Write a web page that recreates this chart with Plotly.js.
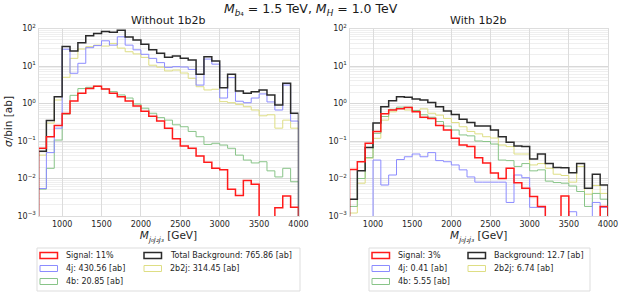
<!DOCTYPE html>
<html>
<head>
<meta charset="utf-8">
<script src="https://cdn.plot.ly/plotly-3.0.1.min.js"></script>
<style>html,body{margin:0;padding:0;background:#fff}#chart{width:623px;height:292px}</style>
</head>
<body>
<div id="chart"></div>
<script>
// Bin edges in GeV (100 GeV bins)
const binEdges = [700,800,900,1000,1100,1200,1300,1400,1500,1600,1700,1800,1900,2000,2100,2200,2300,2400,2500,2600,2700,2800,2900,3000,3100,3200,3300,3400,3500,3600,3700,3800,3900,4000];

// Left panel: Without 1b2b (sigma/bin in ab); 0 = empty bin
const signalL = [0.064,0.13,0.26,0.54,1.17,1.87,2.5,2.9,2.45,1.87,1.52,1.17,0.86,0.62,0.46,0.34,0.22,0.115,0.074,0.064,0.04,0.027,0.0187,0.0172,0.0052,0.0035,0.0089,0.007,0,0,0.00167,0.0034,0.0017];
const fourjL = [0.0054,0.049,0.22,28,6.4,11.8,30.8,35,47,36,60,36,27,20.5,16,12.3,9.2,9.6,9.4,8.1,3.1,15.3,11.2,1.4,4.9,1.15,1.05,1.4,1.8,1.1,0.67,3.1,0.34];
const fourbL = [0.0052,0.0187,0.106,0.52,1.65,2.5,2.7,2.9,2.44,2.07,1.69,1.4,0.97,0.75,0.55,0.42,0.36,0.27,0.24,0.18,0.13,0.081,0.087,0.078,0.064,0.042,0.031,0.026,0.028,0.016,0.011,0.0187,0.0082];
const twob2jL = [0.042,0.30,1.24,5.0,16,28.4,32.8,36,34,40,30,24,21,17,10.5,9.3,7.4,7.8,6.5,4.7,2.8,2.3,2.4,1.12,1.05,0.95,0.82,0.67,0.47,0.5,0.22,0.36,0.22];
const totalL = [0.053,0.35,1.52,33,25,42,64,74,83,79,90,59,49,38,27,22,17,18.5,16,14.4,6.0,17.7,13.6,2.64,6.0,2.15,1.87,2.07,2.29,1.69,0.91,3.45,0.55];

// Right panel: With 1b2b
const signalR = [0.0175,0.028,0.087,0.18,0.53,0.67,0.73,0.78,0.6,0.43,0.40,0.26,0.196,0.118,0.078,0.071,0.036,0.026,0.014,0.010,0.0187,0.0077,0.0055,0.0033,0.0018,0,0,0.0034,0,0,0,0,0.0018];
const fourjR = [0,0,0,0.031,0.0067,0.0124,0.032,0.038,0.045,0.038,0.049,0.030,0.028,0.023,0.017,0.011,0.008,0.008,0.008,0.008,0.0023,0.0124,0.0105,0.0017,0.0017,0,0,0,0.0013,0,0,0.0023,0.0017];
const fourbR = [0.0018,0.01,0.036,0.16,0.45,0.7,0.8,0.8,0.65,0.5,0.43,0.33,0.25,0.196,0.145,0.137,0.1,0.097,0.083,0.031,0.03,0.021,0.025,0.016,0.017,0.0085,0.0078,0.0075,0.0063,0.0045,0.0018,0.004,0.0028];
const twob2jR = [0.0012,0.0075,0.035,0.118,0.36,0.6,0.74,0.67,0.65,0.72,0.55,0.49,0.4,0.31,0.24,0.18,0.155,0.13,0.12,0.078,0.071,0.045,0.045,0.023,0.025,0.0187,0.013,0.012,0.008,0.021,0.0038,0.0065,0.004];
const totalR = [0.0028,0.016,0.067,0.30,0.82,1.19,1.52,1.46,1.32,1.24,1.07,0.82,0.63,0.51,0.38,0.31,0.25,0.25,0.196,0.13,0.092,0.074,0.071,0.033,0.045,0.025,0.0198,0.0194,0.0143,0.025,0.0055,0.0129,0.0067];

const legendL = ["Signal: 11%","4j: 430.56 [ab]","4b: 20.85 [ab]","Total Background: 765.86 [ab]","2b2j: 314.45 [ab]"];
const legendR = ["Signal: 3%","4j: 0.41 [ab]","4b: 5.55 [ab]","Background: 12.7 [ab]","2b2j: 6.74 [ab]"];
const yTickVals = [1e-3,1e-2,1e-1,1,10,100];
const yTickText = ["10<sup>−3</sup>","10<sup>−2</sup>","10<sup>−1</sup>","10<sup>0</sup>","10<sup>1</sup>","10<sup>2</sup>"];
const xTickVals = [1000,1500,2000,2500,3000,3500,4000];

const FLOOR = 1e-9;
const COL = {sig:'#ff1a1a', j4:'#8c8cff', b4:'#88c488', bb:'#dede84', tot:'#2b2b2b'};

function step(vals, color, width, xa, ya) {
  const x = [binEdges[0]], y = [FLOOR];
  for (let i = 0; i < vals.length; i++) { x.push(binEdges[i]); y.push(vals[i] > 0 ? vals[i] : FLOOR); }
  const last = vals[vals.length-1] > 0 ? vals[vals.length-1] : FLOOR;
  x.push(binEdges[binEdges.length-1]); y.push(last);
  x.push(binEdges[binEdges.length-1]); y.push(FLOOR);
  return {x, y, type:'scatter', mode:'lines', line:{shape:'hv', color, width}, xaxis:xa, yaxis:ya, showlegend:false, hoverinfo:'skip'};
}

const traces = [
  step(twob2jL, COL.bb, 1, 'x', 'y'),
  step(fourbL, COL.b4, 1, 'x', 'y'),
  step(fourjL, COL.j4, 1, 'x', 'y'),
  step(totalL, COL.tot, 1.5, 'x', 'y'),
  step(signalL, COL.sig, 1.5, 'x', 'y'),
  step(twob2jR, COL.bb, 1, 'x2', 'y2'),
  step(fourbR, COL.b4, 1, 'x2', 'y2'),
  step(fourjR, COL.j4, 1, 'x2', 'y2'),
  step(totalR, COL.tot, 1.5, 'x2', 'y2'),
  step(signalR, COL.sig, 1.5, 'x2', 'y2')
];

const W = 623, H = 292;
const px = v => v / W, py = v => 1 - v / H;
const FONT = 'DejaVu Sans';
const tickFont = {family: FONT, size: 8, color: '#262626'};

function xax(domain) {
  return {domain, range:[700,4000], tickvals:xTickVals, ticktext:xTickVals.map(String), showgrid:true, gridcolor:'#dcdcdc', gridwidth:1,
    zeroline:false, showline:true, mirror:true, linecolor:'#dddddd', linewidth:1, ticks:'', tickfont:tickFont, ticklen:0,
    title:{text:'<i>M</i><sub><i>j₀j₂j₃</i></sub> [GeV]', font:{family:FONT, size:10.5, color:'#262626'}, standoff:4}};
}
function yax(domain, anchor) {
  return {domain, anchor, type:'log', range:[-3,2], tickvals:yTickVals, ticktext:yTickText, showgrid:true, gridcolor:'#d8d8d8',
    minor:{showgrid:true, gridcolor:'#efefef', dtick:'D1', ticks:''},
    zeroline:false, showline:true, mirror:true, linecolor:'#dddddd', linewidth:1, ticks:'', tickfont:tickFont};
}

const shapes = [], annotations = [];
function ann(text, x, y, size, extra) {
  annotations.push(Object.assign({text, x:px(x), y:py(y), xref:'paper', yref:'paper', xanchor:'center', yanchor:'middle', showarrow:false,
    font:{family:FONT, size, color:'#1a1a1a'}}, extra || {}));
}
// Titles
ann('<i>M</i><sub><i>b</i>₄</sub> = 1.5 TeV, <i>M</i><sub><i>H</i></sub> = 1.0 TeV', 311, 9, 12.5);
ann('Without 1b2b', 168, 20.5, 11);
ann('With 1b2b', 478, 20.5, 11);
ann('<i>σ</i>/bin [ab]', 8, 122, 10.5, {textangle:-90});

// Legends
function legend(x0, x1, col1Sw, col2Sw, labels) {
  shapes.push({type:'rect', xref:'paper', yref:'paper', x0:px(x0), x1:px(x1), y0:py(291), y1:py(248), line:{color:'#dddddd', width:1}, fillcolor:'rgba(255,255,255,0.8)'});
  const cols = [COL.sig, COL.j4, COL.b4, COL.tot, COL.bb];
  const pos = [[col1Sw,255.5],[col1Sw,268.5],[col1Sw,281.5],[col2Sw,255.5],[col2Sw,268.5]];
  labels.forEach((lab, i) => {
    const [sx, sy] = pos[i];
    shapes.push({type:'rect', xref:'paper', yref:'paper', x0:px(sx), x1:px(sx+17.5), y0:py(sy+3), y1:py(sy-3), line:{color:cols[i], width:(i===0||i===3)?1.5:1}, fillcolor:'rgba(0,0,0,0)'});
    ann(lab, sx+24, sy, 8, {xanchor:'left', font:{family:FONT, size:8, color:'#262626'}});
  });
}
legend(37, 300, 40, 144, legendL);
legend(369, 590, 372, 468, legendR);

const layout = {
  width:W, height:H, margin:{l:0,r:0,t:0,b:0}, paper_bgcolor:'#fff', plot_bgcolor:'#fff', showlegend:false,
  xaxis: xax([px(38.5), px(298.5)]),
  yaxis: yax([py(216), py(28.5)], 'x'),
  xaxis2: Object.assign(xax([px(349.5), px(608)]), {anchor:'y2'}),
  yaxis2: yax([py(216), py(28.5)], 'x2'),
  shapes, annotations
};
layout.xaxis.anchor = 'y';

Plotly.newPlot('chart', traces, layout, {staticPlot:true, displayModeBar:false});
</script>
</body>
</html>
